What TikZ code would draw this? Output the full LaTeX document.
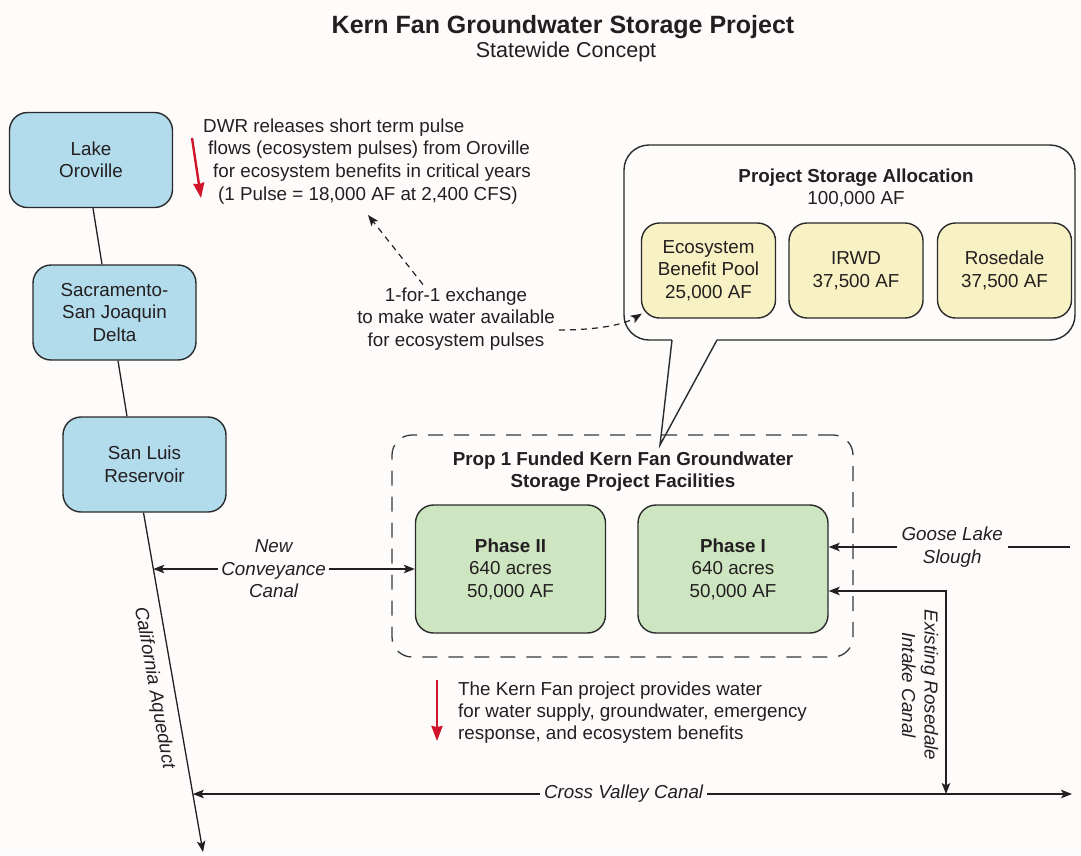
\documentclass[tikz,border=0pt]{standalone}
\usepackage{fontspec}
\setmainfont{Liberation Sans}
\usetikzlibrary{arrows.meta,calc}
\definecolor{ink}{HTML}{231F20}
\definecolor{edge}{HTML}{2A2A2A}
\definecolor{bluef}{HTML}{B2DBEC}
\definecolor{yelf}{HTML}{F7F1C3}
\definecolor{grnf}{HTML}{CDE5C1}
\definecolor{redar}{HTML}{D0152B}
\definecolor{bg}{HTML}{FDFCFA}
\definecolor{dashc}{HTML}{3A3A3A}
\begin{document}
\begin{tikzpicture}[x=1pt,y=-1pt,
  >={Stealth[length=11pt,width=8.5pt,inset=2.5pt]},
  every node/.style={font=\fontsize{18.8}{22.5}\selectfont, text=ink, inner sep=0pt, align=center},
  box/.style={draw=edge, line width=1.4pt, rounded corners=18pt},
  bluebox/.style={box, fill=bluef, minimum width=163pt, minimum height=95pt},
  ybox/.style={box, fill=yelf, minimum width=134pt, minimum height=95pt},
  gbox/.style={box, fill=grnf, minimum width=190pt, minimum height=128pt},
  conn/.style={draw=ink, line width=1.3pt},
  dasharr/.style={draw=ink, line width=1.2pt, dash pattern=on 6pt off 5pt},
  redarrow/.style={draw=redar, line width=2.4pt, -{Stealth[length=15pt,width=11pt,inset=1pt]}},
  lbl/.style={fill=bg, inner xsep=4pt, font=\fontsize{18.8}{22.5}\selectfont\itshape},
  bold/.style={font=\fontsize{18.8}{22.5}\selectfont\bfseries}
]
\path[fill=bg] (0,0) rectangle (1081,855);
\useasboundingbox (0,0) rectangle (1081,855);

% title
\node[anchor=base, font=\fontsize{25}{30}\selectfont\bfseries] (title) at (563,33) {Kern Fan Groundwater Storage Project};
\node[anchor=base, font=\fontsize{21.5}{26}\selectfont] (sub) at (566,57) {Statewide Concept};

% left chain
\node[bluebox] (oro) at (91,160) {Lake\\Oroville};
\node[bluebox] (delta) at (114.5,312.5) {Sacramento-\\San Joaquin\\Delta};
\node[bluebox] (sl) at (144.5,464.5) {San Luis\\Reservoir};
\draw[conn] ($(oro.south)+(2,0)$) -- ($(delta.north)+(-12.5,0)$);
\draw[conn] ($(delta.south)+(3.5,0)$) -- ($(sl.north)+(-17.5,0)$);

\coordinate (aqS) at ($(sl.south)+(-1,0)$);
\coordinate (aqE) at (203,852);
\draw[conn,->] (aqS) -- (aqE);
\node[rotate=-80, font=\fontsize{18.8}{22.5}\selectfont\itshape] (aqT) at (154,688) {California Aqueduct};
\coordinate (ncL) at (153.3,569);
\coordinate (cvL) at (192.8,794);

% DWR text
\node[anchor=base west] (d1) at (203,132) {DWR releases short term pulse};
\node[anchor=base west] (d2) at (208,154) {flows (ecosystem pulses) from Oroville};
\node[anchor=base west] (d3) at (213,177) {for ecosystem benefits in critical years};
\node[anchor=base west] (d4) at (218,200) {(1 Pulse = 18,000 AF at 2,400 CFS)};
\coordinate (r1a) at (192,138);
\coordinate (r1b) at (201,198);
\draw[redarrow] (r1a) -- (r1b);

% storage allocation callout
\node[box, fill=bg, rounded corners=25pt, minimum width=451pt, minimum height=195pt] (psa) at (849.5,242.5) {};
\coordinate (tip) at (660,445);
\fill[bg] (672,338.4) -- (672,340) -- (tip) -- (717,340) -- (717,338.4) -- cycle;
\draw[draw=edge, line width=1.4pt] (672,340) -- (tip) -- (717,340);
\node[anchor=base, bold] (psat) at (856,182) {Project Storage Allocation};
\node[anchor=base] (psav) at (856,204) {100,000 AF};
\node[ybox] (eco) at (708.5,270.5) {Ecosystem\\Benefit Pool\\25,000 AF};
\node[ybox] (irwd) at (856,270.5) {IRWD\\37,500 AF};
\node[ybox] (rose) at (1004.5,270.5) {Rosedale\\37,500 AF};

% exchange
\node (ex) at (456,319) {1-for-1 exchange\\to make water available\\for ecosystem pulses};
\coordinate (exTip) at (368,215);
\draw[dasharr,->] ($(ex.north)+(-33,-3)$) -- (exTip);
\draw[dasharr,->] ($(ex.east)+(4,11)$) .. controls (600,330) and (625,324) .. ($(eco.south west)+(1,-5)$);

% facilities
\node[draw=dashc, line width=1.3pt, dash pattern=on 15pt off 11pt, rounded corners=20pt, minimum width=461pt, minimum height=222pt] (fac) at (622.5,546) {};
\node[anchor=base, bold] (fac1) at (623,465) {Prop 1 Funded Kern Fan Groundwater};
\node[anchor=base, bold] (fac2) at (623,487) {Storage Project Facilities};
\node[gbox] (ph2) at (510.5,569) {\textbf{Phase II}\\640 acres\\50,000 AF};
\node[gbox] (ph1) at (733,569) {\textbf{Phase I}\\640 acres\\50,000 AF};

% canals
\draw[conn,<->] (ncL) -- (ph2.west) node[lbl, pos=0.46, inner xsep=3pt] (ncT) {New\\Conveyance\\Canal};
\coordinate (gooseR) at (1070,547);
\draw[conn,->] (gooseR) -- (ph1.east |- gooseR) node[lbl, pos=0.488, inner xsep=5pt] (gT) {Goose Lake\\Slough};
\coordinate (rosC) at (946,591);
\draw[conn,<->] (ph1.east |- rosC) -- (rosC) -- (rosC |- cvL);
\node[rotate=-90, font=\fontsize{18.8}{22.5}\selectfont\itshape] (rosT) at (920,685) {Existing Rosedale\\Intake Canal};
\coordinate (cvR) at (1072,794);
\draw[conn,<->] (cvL) -- (cvR) node[lbl, pos=0.49] (cvT) {Cross Valley Canal};

% kern fan note
\coordinate (r2a) at (437,680);
\coordinate (r2b) at (437,741);
\draw[redarrow] (r2a) -- (r2b);
\node[anchor=base west] (k1) at (458,695) {The Kern Fan project provides water};
\node[anchor=base west] (k2) at (458,717) {for water supply, groundwater, emergency};
\node[anchor=base west] (k3) at (458,739) {response, and ecosystem benefits};
\end{tikzpicture}
\end{document}
